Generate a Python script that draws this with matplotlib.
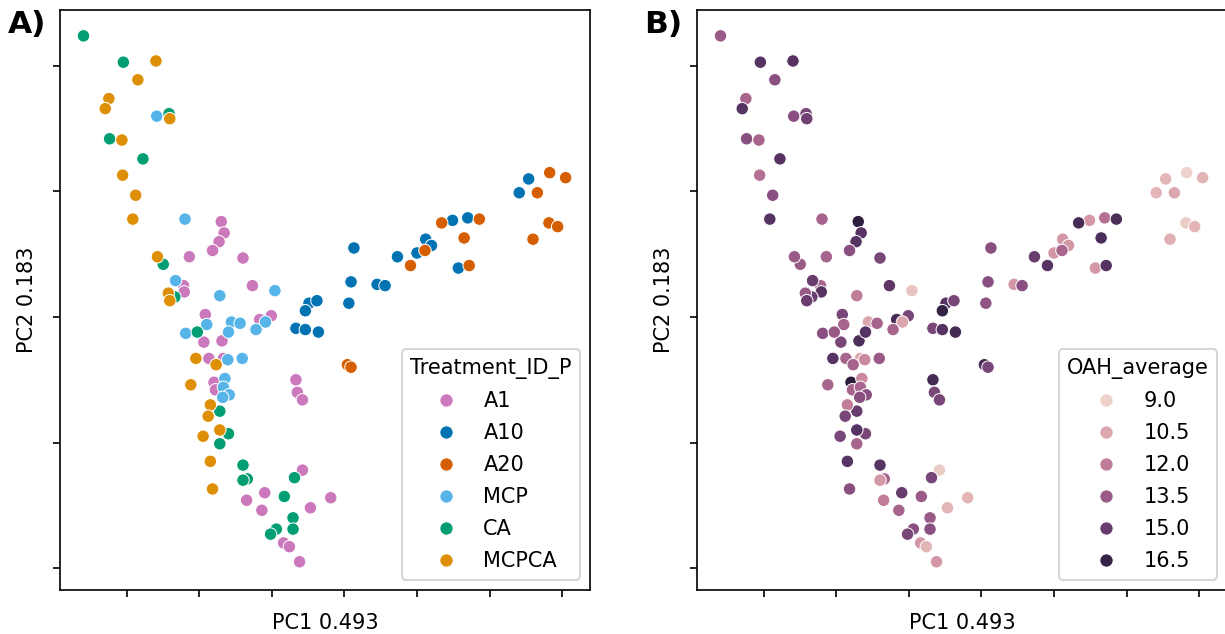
import matplotlib
matplotlib.use("Agg")
import matplotlib.pyplot as plt
import numpy as np
import pandas as pd
import seaborn as sns

# ---------------- data (PC scores, arbitrary units) ----------------
a1_pc1 = [-0.70, -0.66, -0.73, -0.82, -1.14, -0.40, -1.22, -1.21, -0.27, -0.92,
          -0.17, -0.01, -0.94, -0.69, -0.87, -0.67, -0.80, -0.78, 0.33, 0.35,
          0.42, 0.42, -0.10, 0.81, -0.35, 0.53, -0.14, 0.16, 0.24, 0.38]
a1_pc2 = [0.76, 0.67, 0.60, 0.53, 0.48, 0.47, 0.25, 0.20, 0.25, 0.02,
          -0.02, 0.01, -0.20, -0.19, -0.33, -0.33, -0.52, -0.58, -0.50, -0.60,
          -0.66, -1.22, -1.40, -1.44, -1.46, -1.52, -1.54, -1.80, -1.83, -1.95]
a1_oah = [16.8, 15.5, 15.5, 14.0, 13.0, 14.5, 13.0, 15.5, 15.3, 14.5,
          16.0, 14.5, 14.5, 15.8, 13.0, 10.5, 16.8, 13.0, 16.0, 14.5,
          14.5, 9.2, 15.0, 10.0, 12.0, 10.0, 13.0, 11.0, 10.0, 11.0]

a10_pc1 = [0.51, 0.62, 0.46, 1.06, 0.33, 0.46, 0.64, 1.13, 1.09, 1.45,
           1.56, 1.73, 2.00, 2.12, 2.20, 2.49, 2.70, 2.57, 3.54, 3.41]
a10_pc2 = [0.11, 0.13, 0.05, 0.11, -0.09, -0.10, -0.12, 0.55, 0.28, 0.26,
           0.25, 0.48, 0.51, 0.62, 0.57, 0.77, 0.79, 0.39, 1.10, 0.99]
a10_oah = [15.5, 14.5, 16.5, 13.8, 14.5, 15.5, 16.0, 14.0, 14.0, 11.0,
           14.0, 15.0, 11.0, 11.0, 11.0, 11.0, 12.5, 11.0, 10.0, 10.0]

a20_pc1 = [3.83, 4.05, 3.66, 3.82, 3.94, 3.60, 2.86, 2.34, 2.65, 2.11,
           1.91, 2.72, 1.04, 1.09]
a20_pc2 = [1.15, 1.11, 0.99, 0.75, 0.72, 0.62, 0.78, 0.75, 0.63, 0.53,
           0.41, 0.41, -0.38, -0.40]
a20_oah = [9.0, 10.0, 10.5, 9.2, 10.0, 10.2, 15.8, 16.0, 15.8, 13.0,
           15.5, 15.5, 16.0, 14.5]

mcp_pc1 = [-1.59, -1.20, -1.33, 0.04, -0.72, -0.90, -0.56, -0.44, -0.09, -0.22,
           -1.19, -0.60, -0.61, -0.41, -0.65, -0.67, -0.59, -0.68]
mcp_pc2 = [1.60, 0.78, 0.29, 0.21, 0.17, -0.06, -0.04, -0.05, -0.04, -0.10,
           -0.13, -0.12, -0.34, -0.33, -0.49, -0.56, -0.62, -0.64]
mcp_oah = [14.0, 13.0, 15.0, 9.5, 12.0, 13.0, 10.5, 13.0, 10.5, 13.0,
           14.0, 15.5, 11.5, 13.5, 11.5, 13.0, 14.0, 14.0]

ca_pc1 = [-2.60, -2.05, -1.42, -2.24, -1.78, -1.50, -1.34, -1.03, -0.72, -0.60,
          -0.72, -0.40, -0.34, -0.40, 0.31, 0.17, 0.29, 0.29, 0.06, -0.02]
ca_pc2 = [2.24, 2.03, 1.62, 1.42, 1.26, 0.42, 0.16, -0.12, -0.75, -0.93,
          -1.01, -1.18, -1.29, -1.30, -1.28, -1.43, -1.60, -1.69, -1.69, -1.73]
ca_oah = [13.5, 15.5, 14.5, 14.0, 15.5, 13.5, 15.0, 13.5, 15.0, 14.5,
          13.0, 15.5, 13.0, 11.0, 14.5, 13.5, 13.5, 14.0, 14.0, 14.5]

mcpca_pc1 = [-1.60, -1.85, -2.25, -2.30, -1.41, -2.07, -2.06, -1.88, -1.92, -1.58,
             -1.43, -1.41, -1.05, -0.77, -1.12, -0.85, -0.88, -0.72, -0.95, -0.85, -0.82]
mcpca_pc2 = [2.04, 1.89, 1.74, 1.66, 1.58, 1.41, 1.13, 0.97, 0.78, 0.48,
             0.19, 0.13, -0.33, -0.38, -0.54, -0.70, -0.79, -0.90, -0.95, -1.15, -1.37]
mcpca_oah = [15.5, 14.0, 13.0, 15.5, 14.8, 13.0, 12.5, 14.0, 15.5, 13.5,
             13.5, 15.0, 15.5, 13.0, 13.0, 12.0, 14.5, 15.5, 14.5, 15.5, 14.0]

treatments = ["A1", "A10", "A20", "MCP", "CA", "MCPCA"]
treatment_colors = ["#cc78bc", "#0173b2", "#d55e00", "#56b4e9", "#029e73", "#de8f05"]

groups = {
    "A1": (a1_pc1, a1_pc2, a1_oah),
    "A10": (a10_pc1, a10_pc2, a10_oah),
    "A20": (a20_pc1, a20_pc2, a20_oah),
    "MCP": (mcp_pc1, mcp_pc2, mcp_oah),
    "CA": (ca_pc1, ca_pc2, ca_oah),
    "MCPCA": (mcpca_pc1, mcpca_pc2, mcpca_oah),
}

rows = []
for t in treatments:
    xs, ys, os_ = groups[t]
    for x, y, o in zip(xs, ys, os_):
        rows.append({"PC1": x, "PC2": y, "Treatment_ID_P": t, "OAH_average": o})
df = pd.DataFrame(rows)

x_ticks = [-2, -1, 0, 1, 2, 3, 4]
y_ticks = [-2, -1, 0, 1, 2]
x_lim = (-2.924, 4.393)
y_lim = (-2.175, 2.446)

# ---------------- figure ----------------
W, H, DPI = 1225, 634, 150
fig = plt.figure(figsize=(W / DPI, H / DPI), dpi=DPI)
ax1 = fig.add_axes([60 / W, 44 / H, 530.5 / W, 580 / H])
ax2 = fig.add_axes([697 / W, 44 / H, 530.5 / W, 580 / H])

sns.scatterplot(data=df, x="PC1", y="PC2", hue="Treatment_ID_P",
                hue_order=treatments,
                palette=dict(zip(treatments, treatment_colors)), ax=ax1)
sns.scatterplot(data=df, x="PC1", y="PC2", hue="OAH_average", ax=ax2)

for ax in (ax1, ax2):
    ax.set_xlim(*x_lim)
    ax.set_ylim(*y_lim)
    ax.set_xticks(x_ticks)
    ax.set_yticks(y_ticks)
    ax.set_xticklabels([])
    ax.set_yticklabels([])
    ax.set_xlabel("PC1 0.493")
    ax.set_ylabel("PC2 0.183")

for ax, title in ((ax1, "Treatment_ID_P"), (ax2, "OAH_average")):
    handles, labels = ax.get_legend_handles_labels()
    for h in handles:
        try:
            h.set_markersize(6.4)
        except AttributeError:
            pass
    ax.legend(handles, labels, title=title, loc="lower right",
              labelspacing=0.58)

fig.text(8 / W, 1 - 33 / H, "A)", fontsize=15, fontweight="bold", va="baseline")
fig.text(644 / W, 1 - 33 / H, "B)", fontsize=15, fontweight="bold", va="baseline")

fig.savefig("out.png", dpi=DPI)
